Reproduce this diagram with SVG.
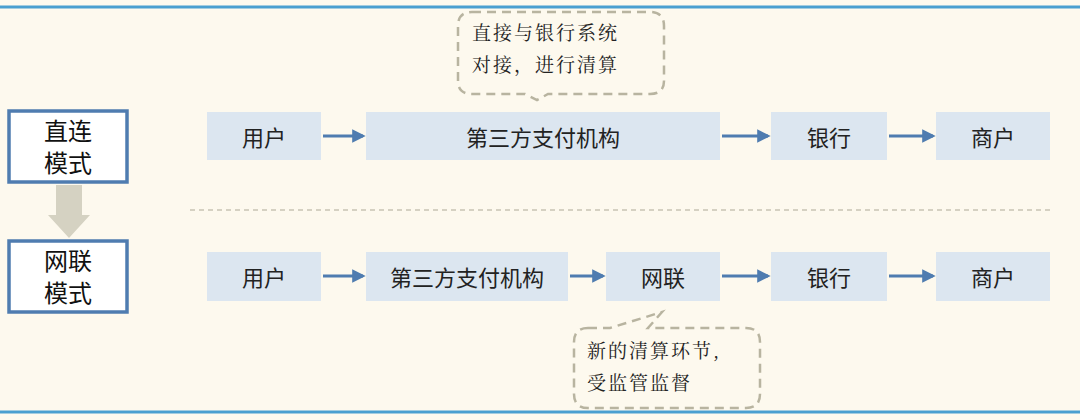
<svg xmlns="http://www.w3.org/2000/svg" width="1080" height="420" viewBox="0 0 1080 420">
<defs>
<style>
.n{fill:#dce6f0}
.t{font-family:"Noto Sans CJK SC","Noto Sans",sans-serif;font-size:22px;fill:#222;text-anchor:middle;dominant-baseline:central}
.m{fill:#fff;stroke:#4f7cb0;stroke-width:3.5}
.mt{font-family:"Noto Sans CJK SC",sans-serif;font-size:24px;fill:#111;text-anchor:middle}
.c{fill:none;stroke:#b8b4a0;stroke-width:2.5;stroke-dasharray:9 6}
.ct{font-family:"Noto Serif CJK SC","Noto Sans CJK SC",serif;font-size:19px;fill:#222;letter-spacing:2px}
.a{stroke:#4f7cb0;stroke-width:3;fill:none;marker-end:url(#ah)}
</style>
<marker id="ah" viewBox="0 0 10 10" refX="8" refY="5" markerWidth="4.5" markerHeight="4.5" orient="auto"><path d="M0,0 L10,5 L0,10 z" fill="#4f7cb0"/></marker>
</defs>
<rect width="1080" height="420" fill="#fdf9ee"/>
<line x1="0" y1="7" x2="1080" y2="7" stroke="#4a9fd0" stroke-width="3"/>
<line x1="0" y1="412" x2="1080" y2="412" stroke="#4a9fd0" stroke-width="3"/>
<line x1="190" y1="210" x2="1050" y2="210" stroke="#c8c4b4" stroke-width="1.5" stroke-dasharray="5 4"/>
<g id="mode1"><rect class="m" x="9" y="111" width="118" height="71"/><text class="mt" x="68" y="140">直连</text><text class="mt" x="68" y="172">模式</text></g>
<g id="mode2"><rect class="m" x="9" y="241" width="118" height="71"/><text class="mt" x="68" y="270">网联</text><text class="mt" x="68" y="302">模式</text></g>
<path d="M56,185 H82 V215 H90 L69,238 L48,215 H56 Z" fill="#d5d2c2"/>
<g id="r1a"><rect class="n" x="207" y="112" width="114" height="48"/><text class="t" x="264" y="136">用户</text></g>
<g id="r1b"><rect class="n" x="366" y="112" width="354" height="48"/><text class="t" x="543" y="136">第三方支付机构</text></g>
<g id="r1c"><rect class="n" x="771" y="112" width="116" height="48"/><text class="t" x="829" y="136">银行</text></g>
<g id="r1d"><rect class="n" x="936" y="112" width="114" height="48"/><text class="t" x="993" y="136">商户</text></g>
<g id="r2a"><rect class="n" x="207" y="252" width="114" height="49"/><text class="t" x="264" y="276">用户</text></g>
<g id="r2b"><rect class="n" x="366" y="252" width="202" height="49"/><text class="t" x="467" y="276">第三方支付机构</text></g>
<g id="r2c"><rect class="n" x="606" y="252" width="114" height="49"/><text class="t" x="663" y="276">网联</text></g>
<g id="r2d"><rect class="n" x="771" y="252" width="116" height="49"/><text class="t" x="829" y="276">银行</text></g>
<g id="r2e"><rect class="n" x="936" y="252" width="114" height="49"/><text class="t" x="993" y="276">商户</text></g>
<g id="connectors">
<line class="a" x1="323" y1="136" x2="363" y2="136"/>
<line class="a" x1="722" y1="136" x2="768" y2="136"/>
<line class="a" x1="889" y1="136" x2="933" y2="136"/>
<line class="a" x1="323" y1="276" x2="363" y2="276"/>
<line class="a" x1="570" y1="276" x2="603" y2="276"/>
<line class="a" x1="722" y1="276" x2="768" y2="276"/>
<line class="a" x1="889" y1="276" x2="933" y2="276"/>
</g>
<g id="callout1"><path class="c" d="M472,12 H650 Q664,12 664,26 V81 Q664,94 650,94 H548 L537,100 L525,94 H472 Q458,94 458,81 V26 Q458,12 472,12 Z"/>
<text class="ct" x="472" y="40">直接与银行系统</text><text class="ct" x="472" y="72">对接，进行清算</text></g>
<g id="callout2"><path class="c" d="M588,328 H610 L662,312 L648,328 H746 Q760,328 760,342 V394 Q760,408 746,408 H588 Q574,408 574,394 V342 Q574,328 588,328 Z"/>
<text class="ct" x="587" y="358">新的清算环节,</text><text class="ct" x="587" y="390">受监管监督</text></g>
</svg>
